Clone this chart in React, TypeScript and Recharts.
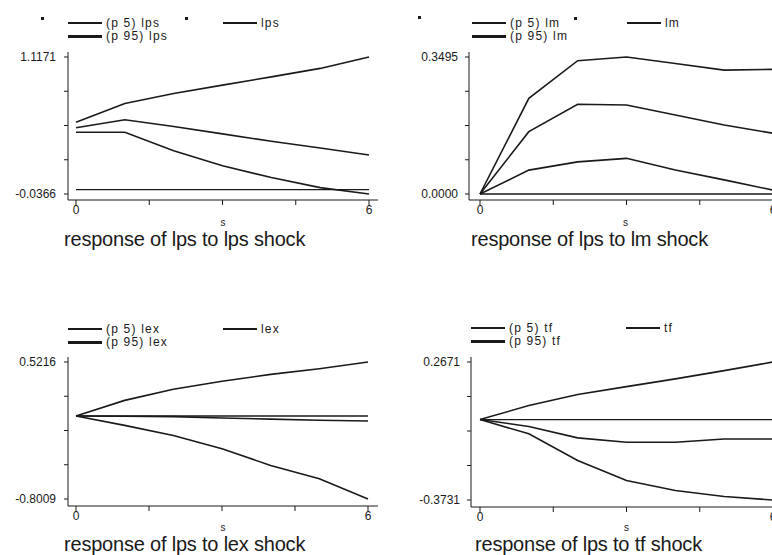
import React from 'react';
import { LineChart, Line, XAxis, YAxis, ReferenceLine, Label } from 'recharts';

// ---- data ----
const steps = [0, 1, 2, 3, 4, 5, 6];
const xTicks = [0, 1.5, 3, 4.5, 6];

const lpsP5 = [0.484, 0.484, 0.328, 0.201, 0.102, 0.017, -0.0366];
const lpsIrf = [0.521, 0.589, 0.532, 0.47, 0.407, 0.351, 0.292];
const lpsP95 = [0.568, 0.725, 0.809, 0.88, 0.95, 1.021, 1.1171];

const lmP5 = [0, 0.061, 0.082, 0.091, 0.061, 0.036, 0.01];
const lmIrf = [0, 0.159, 0.229, 0.227, 0.2015, 0.176, 0.155];
const lmP95 = [0, 0.244, 0.34, 0.3495, 0.333, 0.316, 0.318];

const lexP5 = [0, -0.09, -0.187, -0.316, -0.477, -0.605, -0.8009];
const lexIrf = [0, -0.002, -0.006, -0.019, -0.03, -0.04, -0.048];
const lexP95 = [0, 0.151, 0.258, 0.335, 0.402, 0.457, 0.5216];

const tfP5 = [0, -0.066, -0.19, -0.283, -0.329, -0.357, -0.3731];
const tfIrf = [0, -0.032, -0.085, -0.105, -0.105, -0.09, -0.09];
const tfP95 = [0, 0.065, 0.116, 0.153, 0.189, 0.227, 0.2671];

const impulseNames = ['lps', 'lm', 'lex', 'tf'];
const yMins = [-0.0366, 0, -0.8009, -0.3731];
const yMaxs = [1.1171, 0.3495, 0.5216, 0.2671];
const titles = [
  'response of lps to lps shock',
  'response of lps to lm shock',
  'response of lps to lex shock',
  'response of lps to tf shock',
];
const seriesP5 = [lpsP5, lmP5, lexP5, tfP5];
const seriesIrf = [lpsIrf, lmIrf, lexIrf, tfIrf];
const seriesP95 = [lpsP95, lmP95, lexP95, tfP95];

// ---- layout ----
const FONT = '"Liberation Sans", Arial, Helvetica, sans-serif';
const INK = '#1a1a1a';

const layouts = [
  { left: 0, top: 0, width: 386, height: 245, margin: { top: 52, right: 8, left: 8, bottom: 15 }, padX: { left: 8, right: 9 }, padY: { top: 5, bottom: 6 }, tickMargin: 8, sOffset: 4,
    legend: [68, 23], title: [64, 246], dots: [[42, 18], [186, 18]] },
  { left: 386, top: 0, width: 400, height: 245, margin: { top: 52, right: 4, left: 23, bottom: 15 }, padX: { left: 11, right: 9 }, padY: { top: 5, bottom: 6 }, tickMargin: 7, sOffset: 4,
    legend: [472, 23], title: [471, 246], dots: [[419, 17], [575, 18]] },
  { left: 0, top: 300, width: 386, height: 250, margin: { top: 57, right: 8, left: 8, bottom: 14 }, padX: { left: 8, right: 10 }, padY: { top: 5, bottom: 7 }, tickMargin: 8, sOffset: 5,
    legend: [68, 329], title: [64, 551], dots: [] },
  { left: 386, top: 300, width: 400, height: 250, margin: { top: 57, right: 4, left: 25, bottom: 13 }, padX: { left: 9, right: 9 }, padY: { top: 5, bottom: 7 }, tickMargin: 7, sOffset: 6,
    legend: [471, 328], title: [475, 551], dots: [] },
];

function Panel({ idx }: { idx: number }) {
  const L = layouts[idx];
  const lo = yMins[idx];
  const hi = yMaxs[idx];
  const yTicks = [0, 1, 2, 3, 4].map((k) => lo + ((hi - lo) * k) / 4);
  const rows = steps.map((s, i) => ({
    s,
    p5: seriesP5[idx][i],
    irf: seriesIrf[idx][i],
    p95: seriesP95[idx][i],
  }));
  return (
    <div style={{ position: 'absolute', left: L.left, top: L.top }}>
      <LineChart width={L.width} height={L.height} data={rows} margin={L.margin}>
        <XAxis
          dataKey="s"
          type="number"
          domain={[0, 6]}
          ticks={xTicks}
          interval={0}
          tickFormatter={(v: number) => (v === 0 || v === 6 ? String(v) : '')}
          padding={L.padX}
          height={30}
          tickSize={5}
          tickMargin={0}
          stroke={INK}
          tick={{ fontSize: 12, fill: INK, fontFamily: FONT }}
        >
          <Label value="s" position="insideBottom" offset={L.sOffset} style={{ fontSize: 10, fill: INK, fontFamily: FONT }} />
        </XAxis>
        <YAxis
          type="number"
          domain={[lo, hi]}
          ticks={yTicks}
          interval={0}
          width={60}
          tickFormatter={(v: number, i: number) => (i === 0 || i === 4 ? v.toFixed(4) : '')}
          padding={L.padY}
          tickSize={4}
          tickMargin={L.tickMargin}
          stroke={INK}
          tick={{ fontSize: 12, fill: INK, fontFamily: FONT }}
        />
        <ReferenceLine
          segment={[{ x: 0, y: 0 }, { x: 6, y: 0 }]}
          stroke={INK}
          strokeWidth={1.4}
          ifOverflow="visible"
        />
        <Line type="linear" dataKey="p5" stroke={INK} strokeWidth={1.6} dot={false} isAnimationActive={false} />
        <Line type="linear" dataKey="irf" stroke={INK} strokeWidth={1.6} dot={false} isAnimationActive={false} />
        <Line type="linear" dataKey="p95" stroke={INK} strokeWidth={1.6} dot={false} isAnimationActive={false} />
      </LineChart>
    </div>
  );
}

function LegendBlock({ idx }: { idx: number }) {
  const L = layouts[idx];
  const name = impulseNames[idx];
  const [lx, ly] = L.legend;
  const items = [
    { label: `(p 5) ${name}`, x: lx, y: ly, w: 1.5 },
    { label: name, x: lx + 155, y: ly, w: 1.5 },
    { label: `(p 95) ${name}`, x: lx, y: ly + 13, w: 3 },
  ];
  const textStyle: React.CSSProperties = {
    position: 'absolute',
    fontFamily: FONT,
    fontSize: 12,
    letterSpacing: 1.2,
    lineHeight: '12px',
    color: INK,
    whiteSpace: 'nowrap',
  };
  return (
    <>
      {items.map((it, k) => (
        <React.Fragment key={k}>
          <div style={{ position: 'absolute', left: it.x, top: it.y - it.w / 2, width: 34, height: it.w, background: INK }} />
          <div style={{ ...textStyle, left: it.x + 38, top: it.y - 6 }}>{it.label}</div>
        </React.Fragment>
      ))}
      {L.dots.map(([dx, dy], k) => (
        <div key={`d${k}`} style={{ position: 'absolute', left: dx - 1.5, top: dy - 1.5, width: 3, height: 3, background: INK }} />
      ))}
      <div
        style={{
          position: 'absolute',
          left: L.title[0],
          top: L.title[1] - 15,
          fontFamily: FONT,
          fontSize: 20,
          letterSpacing: -0.2,
          lineHeight: '16px',
          color: INK,
          whiteSpace: 'nowrap',
        }}
      >
        {titles[idx]}
      </div>
    </>
  );
}

export default function App() {
  return (
    <div
      style={{
        position: 'fixed',
        left: 0,
        top: 0,
        width: 772,
        height: 555,
        overflow: 'hidden',
        background: '#ffffff',
      }}
    >
      {[0, 1, 2, 3].map((i) => (
        <React.Fragment key={i}>
          <Panel idx={i} />
          <LegendBlock idx={i} />
        </React.Fragment>
      ))}
    </div>
  );
}
